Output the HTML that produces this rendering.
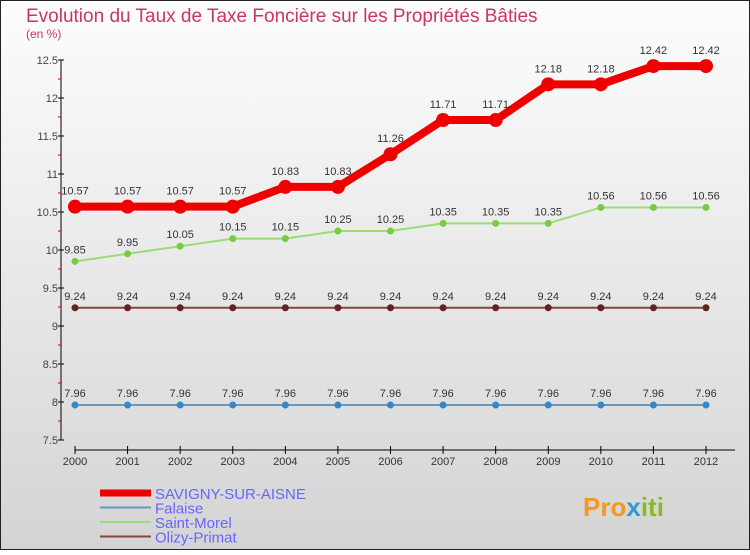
<!DOCTYPE html>
<html><head><meta charset="utf-8"><style>
html,body{margin:0;padding:0}
body{width:750px;height:550px;overflow:hidden;font-family:"Liberation Sans",sans-serif}
</style></head><body>
<svg width="750" height="550" xmlns="http://www.w3.org/2000/svg">
<defs><linearGradient id="bg" x1="0" y1="0" x2="0" y2="1"><stop offset="0" stop-color="#fdfdfd"/><stop offset="1" stop-color="#d4d4d4"/></linearGradient></defs>
<rect x="0.5" y="0.5" width="749" height="549" fill="url(#bg)" stroke="#222"/>
<text x="26" y="22" font-size="19" fill="#cc3366">Evolution du Taux de Taxe Foncière sur les Propriétés Bâties</text>
<text x="26" y="38" font-size="12" fill="#cc3366">(en %)</text>
<g id="axes"></g>
<g id="series"></g>
<g id="legend"></g>
<text x="583" y="516" font-size="26" font-weight="bold" fill="#f39a1e">Pro<tspan fill="#3399cc">x</tspan><tspan fill="#88bb22">iti</tspan></text>
</svg>
<script>
const years=[2000,2001,2002,2003,2004,2005,2006,2007,2008,2009,2010,2011,2012];
const yTicks=[7.5,8,8.5,9,9.5,10,10.5,11,11.5,12,12.5];
const savigny=[10.57,10.57,10.57,10.57,10.83,10.83,11.26,11.71,11.71,12.18,12.18,12.42,12.42];
const falaise=[7.96,7.96,7.96,7.96,7.96,7.96,7.96,7.96,7.96,7.96,7.96,7.96,7.96];
const saintMorel=[9.85,9.95,10.05,10.15,10.15,10.25,10.25,10.35,10.35,10.35,10.56,10.56,10.56];
const olizy=[9.24,9.24,9.24,9.24,9.24,9.24,9.24,9.24,9.24,9.24,9.24,9.24,9.24];
const names=["SAVIGNY-SUR-AISNE","Falaise","Saint-Morel","Olizy-Primat"];
const NS="http://www.w3.org/2000/svg";
const xs=i=>75+i*(706-75)/(years.length-1);
const ys=v=>440-(v-7.5)*76;
function mk(t,a,p){const e=document.createElementNS(NS,t);for(const k in a)e.setAttribute(k,a[k]);(p||document.getElementById('series')).appendChild(e);return e;}
const ax=document.getElementById('axes');
let e=mk('line',{x1:61,y1:60,x2:61,y2:440,stroke:'#000'},ax);

yTicks.forEach((v,i)=>{
 e=mk('line',{x1:58,y1:ys(v),x2:64,y2:ys(v),stroke:'#000'},ax);
 
 if(i<yTicks.length-1){e=mk('line',{x1:58,y1:ys(v+0.25),x2:61,y2:ys(v+0.25),stroke:'#d00'},ax);
 }
 e=mk('text',{x:58,y:ys(v)+4,'font-size':11,'text-anchor':'end',fill:'#444'},ax);e.textContent=String(v);
 
});
e=mk('line',{x1:75,y1:450,x2:735,y2:450,stroke:'#000'},ax);

years.forEach((y,i)=>{
 e=mk('line',{x1:xs(i),y1:446,x2:xs(i),y2:454,stroke:'#000'},ax);
 
 e=mk('text',{x:xs(i),y:465,'font-size':11,'text-anchor':'middle',fill:'#333'},ax);e.textContent=y;
 
});
const series=[
 {d:falaise,c:'#6699bb',dot:'#3388cc',w:2,r:3.5},
 {d:olizy,c:'#884444',dot:'#662222',w:2,r:3.5},
 {d:saintMorel,c:'#99dd77',dot:'#77cc44',w:2,r:3.5},
 {d:savigny,c:'#ee0000',dot:'#ee0000',w:8,r:7}];
series.forEach((s,k)=>{
 e=mk('polyline',{points:s.d.map((v,i)=>xs(i)+','+ys(v)).join(' '),fill:'none',stroke:s.c,'stroke-width':s.w});
 
 s.d.forEach((v,i)=>{
  e=mk('circle',{cx:xs(i),cy:ys(v),r:s.r,fill:s.dot});
  
  e=mk('text',{x:xs(i),y:ys(v)-(k==3?12:8),'font-size':11,'text-anchor':'middle',fill:'#333'});
  e.textContent=String(v);
  
 });
});
const lg=document.getElementById('legend');
const lc=['#ee0000','#6699bb','#99dd77','#884444'],lw=[7,2,2,2];
names.forEach((n,i)=>{
 const y=493+i*14.5;
 e=mk('line',{x1:100,y1:y,x2:151,y2:y,stroke:lc[i],'stroke-width':lw[i]},lg);
 
 e=mk('text',{x:155,y:y+6,'font-size':15,fill:'#6666ff'},lg);e.textContent=n;
 
});
</script>
</body></html>
